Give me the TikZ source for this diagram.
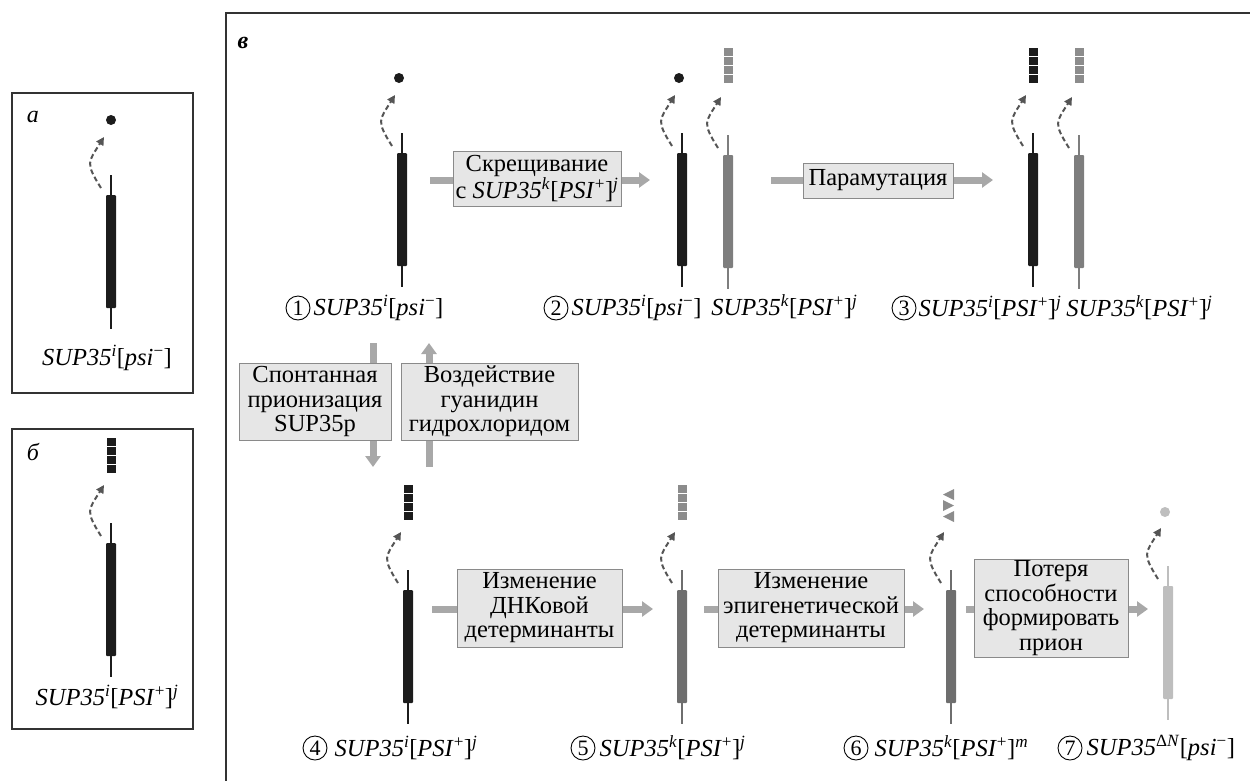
\documentclass[tikz,border=0pt]{standalone}
\usepackage{fontspec}
\setmainfont{Liberation Serif}
\usetikzlibrary{arrows.meta,calc}
\definecolor{chblack}{HTML}{1C1C1C}
\definecolor{chgray}{HTML}{7E7E7E}
\definecolor{chdark}{HTML}{6E6E6E}
\definecolor{chlight}{HTML}{BEBEBE}
\definecolor{sqgray}{HTML}{8C8C8C}
\definecolor{flowgray}{HTML}{A8A8A8}
\definecolor{boxfill}{HTML}{E6E6E6}
\definecolor{boxline}{HTML}{8A8A8A}
\definecolor{arcgray}{HTML}{555555}
\definecolor{framecol}{HTML}{333333}
\newcommand{\gname}[2]{\textit{SUP35}\textsuperscript{\textit{#1}}#2}
\newcommand{\psim}{[\textit{psi}\textsuperscript{−}]}
\newcommand{\psip}[1]{[\textit{PSI}\textsuperscript{+}]\textsuperscript{\textit{#1}}}
\newcommand{\chromo}[4]{%
  \draw[line width=2.4pt,#4] (#2,#3) -- (#2,#3+154);
  \node[chbar,fill=#4] (#1) at (#2,#3+76.5) {};
  \draw[dasharc] (#2-10,#3+13) to[out=122,in=-122,looseness=1.5] (#2-7,#3-38);
}
\newcommand{\topdot}[4]{\fill[#4] (#2-3,#3-55) circle (#1);}
\newcommand{\squares}[3]{%
  \foreach \k in {0,1,2,3} {\fill[#3] (#1-4.5,#2-85+\k*9) rectangle ++(9,8);}
}
\begin{document}
\begin{tikzpicture}[x=1pt,y=-1pt,
  frame/.style={draw=framecol,line width=1.3pt},
  chbar/.style={rectangle,minimum width=10pt,minimum height=113pt,inner sep=0pt,draw=none,rounded corners=1pt},
  dasharc/.style={draw=arcgray,line width=2pt,dash pattern=on 5pt off 3pt,-{Triangle[length=8pt,width=8pt]}},
  flow/.style={draw=flowgray,line width=7pt},
  flowhead/.style={-{Triangle[length=11pt,width=15pt]}},
  stepbox/.style={draw=boxline,fill=boxfill,line width=1pt,align=center,inner sep=1pt,font=\fontsize{24.5}{24.5}\selectfont},
  numc/.style={circle,draw=black,line width=0.9pt,minimum size=24pt,inner sep=0pt,font=\fontsize{22}{22}\selectfont},
  lab/.style={inner sep=0pt,font=\fontsize{24.5}{26}\selectfont},
  plabel/.style={inner sep=0pt,font=\fontsize{24}{26}\selectfont\itshape}
]
\useasboundingbox (0,0) rectangle (1250,780);
% frames
\draw[frame] (12,93) rectangle (193,393);
\draw[frame] (12,429) rectangle (193,729);
\draw[frame] (1252,13) -- (226,13) -- (226,782);
\node[plabel] (pa) at (33,117) {а};
\node[plabel] (pb) at (33,452) {б};
\node[plabel,font=\fontsize{24}{26}\selectfont\bfseries\itshape] (pv) at (243,43) {в};

% panel a
\chromo{cha}{111}{175}{chblack}
\topdot{5pt}{114}{175}{chblack}
\node[lab] (laba) at (107,358) {\gname{i}{\psim}};
% panel b
\chromo{chb}{111}{523}{chblack}
\squares{111}{523}{chblack}
\node[lab] (labb) at (107,697) {\gname{i}{\psip{j}}};

% top row
\chromo{c1}{402}{133}{chblack}
\topdot{5pt}{402}{133}{chblack}
\chromo{c2a}{682}{133}{chblack}
\topdot{5pt}{682}{133}{chblack}
\chromo{c2b}{728}{135}{chgray}
\squares{728}{133}{sqgray}
\chromo{c3a}{1033}{133}{chblack}
\squares{1033}{133}{chblack}
\chromo{c3b}{1079}{135}{chgray}
\squares{1079}{133}{sqgray}

% bottom row
\chromo{c4}{408}{570}{chblack}
\squares{408}{570}{chblack}
\chromo{c5}{682}{570}{chdark}
\squares{682}{570}{sqgray}
\chromo{c6}{951}{570}{chdark}
\fill[sqgray] (954,489) -- (954,500) -- (943,494.5) -- cycle;
\fill[sqgray] (943,500) -- (943,511) -- (954,505.5) -- cycle;
\fill[sqgray] (954,511) -- (954,522) -- (943,516.5) -- cycle;
\chromo{c7}{1168}{566}{chlight}
\topdot{5pt}{1168}{567}{chlight}

% labels with circled numbers
\node[numc] (n1) at (298,308) {1};
\node[lab,anchor=west] (l1) at ($(n1.east)+(3,0)$) {\gname{i}{\psim}};
\node[numc] (n2) at (556,308) {2};
\node[lab,anchor=west] (l2) at ($(n2.east)+(3,0)$) {\gname{i}{\psim}\hspace{10pt}\gname{k}{\psip{j}}};
\node[numc] (n3) at (904,308) {3};
\node[lab,anchor=west] (l3) at ($(n3.east)+(2,0)$) {\gname{i}{\psip{j}}\hspace{5pt}\gname{k}{\psip{j}}};
\node[numc] (n4) at (315,748) {4};
\node[lab,anchor=west] (l4) at ($(n4.east)+(7,0)$) {\gname{i}{\psip{j}}};
\node[numc] (n5) at (583,748) {5};
\node[lab,anchor=west] (l5) at ($(n5.east)+(4,0)$) {\gname{k}{\psip{j}}};
\node[numc] (n6) at (856,748) {6};
\node[lab,anchor=west] (l6) at ($(n6.east)+(6,0)$) {\gname{k}{\psip{m}}};
\node[numc] (n7) at (1070,748) {7};
\node[lab,anchor=west] (l7) at ($(n7.east)+(4,0)$) {\textit{SUP35}\textsuperscript{Δ\textit{N}}\psim};

% boxes
\node[stepbox,minimum width=168pt,minimum height=55pt] (b1) at (537,178.5) {Скрещивание\\с \gname{k}{\psip{j}}};
\node[stepbox,minimum width=150pt,minimum height=35pt] (b2) at (878,180.5) {Парамутация};
\node[stepbox,minimum width=152pt,minimum height=77pt] (sp) at (315,401.5) {Спонтанная\\прионизация\\SUP35p};
\node[stepbox,minimum width=177pt,minimum height=77pt] (vz) at (489.5,401.5) {Воздействие\\гуанидин\\гидрохлоридом};
\node[stepbox,minimum width=165pt,minimum height=78pt] (b3) at (539.5,608) {Изменение\\ДНКовой\\детерминанты};
\node[stepbox,minimum width=186pt,minimum height=78pt] (b4) at (811,608) {Изменение\\эпигенетической\\детерминанты};
\node[stepbox,minimum width=154pt,minimum height=98pt] (b5) at (1051,608) {Потеря\\способности\\формировать\\прион};

% flow arrows
\coordinate (a1s) at (430,180); \coordinate (a1e) at (650,180);
\draw[flow] (a1s) -- (a1s -| b1.west);
\draw[flow,flowhead] (a1e -| b1.east) -- (a1e);
\coordinate (a2s) at (771,180); \coordinate (a2e) at (993,180);
\draw[flow] (a2s) -- (a2s -| b2.west);
\draw[flow,flowhead] (a2e -| b2.east) -- (a2e);
\coordinate (dtop) at (373,343); \coordinate (dbot) at (373,467);
\draw[flow] (dtop) -- (dtop |- sp.north);
\draw[flow,flowhead] (dbot |- sp.south) -- (dbot);
\coordinate (utop) at (429,343); \coordinate (ubot) at (429,467);
\draw[flow] (ubot) -- (ubot |- vz.south);
\draw[flow,flowhead] (utop |- vz.north) -- (utop);
\coordinate (b3s) at (432,609); \coordinate (b3e) at (653,609);
\draw[flow] (b3s) -- (b3s -| b3.west);
\draw[flow,flowhead] (b3e -| b3.east) -- (b3e);
\coordinate (b4s) at (704,609); \coordinate (b4e) at (924,609);
\draw[flow] (b4s) -- (b4s -| b4.west);
\draw[flow,flowhead] (b4e -| b4.east) -- (b4e);
\coordinate (b5s) at (966,609); \coordinate (b5e) at (1148,609);
\draw[flow] (b5s) -- (b5s -| b5.west);
\draw[flow,flowhead] (b5e -| b5.east) -- (b5e);
\end{tikzpicture}
\end{document}
